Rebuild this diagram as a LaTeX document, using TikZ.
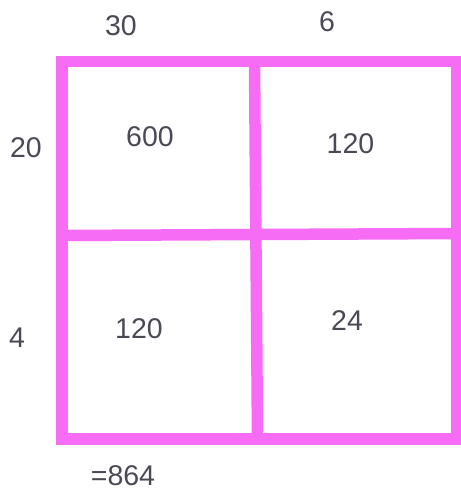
\documentclass[tikz,border=0pt]{standalone}
\usepackage{fontspec}
\setmainfont{Liberation Sans}
\usepackage{tikz}
\definecolor{gridpink}{HTML}{F76CF5}
\definecolor{numgray}{HTML}{4A4A55}

\begin{document}
\begin{tikzpicture}[x=1pt,y=-1pt,
  bar/.style={line width=11.5pt,gridpink},
  num/.style={font=\fontsize{28.5}{34}\selectfont,text=numgray,inner sep=0pt}]
\useasboundingbox (0,0) rectangle (460,492);
% frame and dividers
\draw[bar,line join=miter] (62,61.5) rectangle (457,439);
\draw[bar] (254.5,61.5) -- (257.5,439);
\draw[bar] (62,235.5) -- (457,233.5);
% side lengths
\node[num] (topa) at (121,26) {30};
\node[num] (topb) at (327,22) {6};
\node[num] (lefta) at (26,148) {20};
\node[num] (leftb) at (17,337.5) {4};
% areas
\node[num] (aa) at (150,137) {600};
\node[num] (ab) at (350.5,144) {120};
\node[num] (ba) at (139,329) {120};
\node[num] (bb) at (347,321) {24};
% total
\node[num] (total) at (123,475.5) {=864};
\end{tikzpicture}
\end{document}
